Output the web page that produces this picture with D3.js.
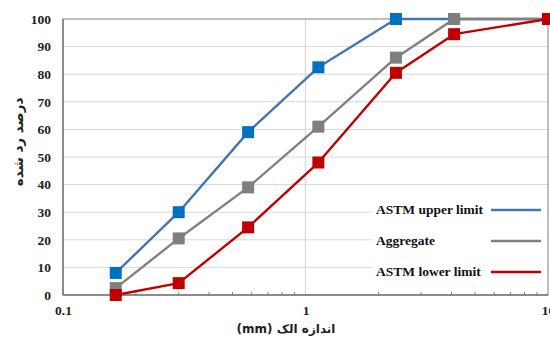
<!DOCTYPE html>
<html>
<head>
<meta charset="utf-8">
<script src="https://cdn.jsdelivr.net/npm/d3@7"></script>
<style>
  body { margin: 0; background: #fff; }
  svg text { font-family: "Liberation Serif", "Times New Roman", serif; }
</style>
</head>
<body>
<svg id="chart" width="550" height="340"></svg>
<script>
// sieve sizes (mm)
const sieveSizes = [0.165, 0.3, 0.58, 1.13, 2.36, 4.1, 10];
const upperLimit = [8, 30, 59, 82.5, 100, 100, 100];
const aggregate = [2.5, 20.5, 39, 61, 86, 100, 100];
const lowerLimit = [0, 4.3, 24.5, 48, 80.5, 94.5, 100];
const yTicks = [0, 10, 20, 30, 40, 50, 60, 70, 80, 90, 100];
const xTicks = [0.1, 1, 10];

const series = [
    {name: "ASTM upper limit", values: upperLimit, line: "#4576AC", marker: "#0070C0"},
    {name: "Aggregate", values: aggregate, line: "#808080", marker: "#7F7F7F"},
    {name: "ASTM lower limit", values: lowerLimit, line: "#C00000", marker: "#C00000"}
];

const svg = d3.select("#chart");
const margin = {left: 63, right: 2, top: 19, bottom: 45};
const width = 550, height = 340;

const x = d3.scaleLog().domain([0.1, 10]).range([margin.left, width - margin.right]);
const y = d3.scaleLinear().domain([0, 100]).range([height - margin.bottom, margin.top]);

// Horizontal gridlines
svg.append("g")
    .selectAll("line")
    .data(yTicks.slice(1, -1))
    .enter()
    .append("line")
    .attr("x1", x(0.1))
    .attr("x2", x(10))
    .attr("y1", d => y(d))
    .attr("y2", d => y(d))
    .style("stroke", "#D9D9D9")
    .style("stroke-width", 1);

// Vertical gridline at 1
svg.append("line")
    .attr("x1", x(1)).attr("x2", x(1))
    .attr("y1", y(0)).attr("y2", y(100))
    .style("stroke", "#D9D9D9")
    .style("stroke-width", 1.3);

// Plot border
svg.append("rect")
    .attr("x", x(0.1))
    .attr("y", y(100))
    .attr("width", x(10) - x(0.1))
    .attr("height", y(0) - y(100))
    .style("fill", "none")
    .style("stroke", "#7F7F7F")
    .style("stroke-width", 1);

svg.append("line")
    .attr("x1", x(0.1)).attr("x2", x(10))
    .attr("y1", y(0)).attr("y2", y(0))
    .style("stroke", "#595959");
svg.append("line")
    .attr("x1", x(0.1)).attr("x2", x(0.1))
    .attr("y1", y(0)).attr("y2", y(100))
    .style("stroke", "#595959");

// Minor x ticks
const minorTicks = x.ticks().filter(d => !xTicks.includes(d));
svg.append("g")
    .selectAll("line")
    .data(minorTicks)
    .enter()
    .append("line")
    .attr("x1", d => x(d)).attr("x2", d => x(d))
    .attr("y1", y(0) - 3).attr("y2", y(0) + 1)
    .style("stroke", "#7F7F7F");

// Y axis labels
const yAxis = svg.append("g")
    .attr("transform", `translate(${x(0.1) - 12},0)`)
    .call(d3.axisLeft(y).tickValues(yTicks).tickSize(0).tickPadding(0));
yAxis.select(".domain").remove();
yAxis.selectAll("text")
    .style("font-family", "'Liberation Serif', serif")
    .style("font-size", "13.5px")
    .style("font-weight", "bold")
    .attr("fill", "#222");

// X axis labels
const xAxis = svg.append("g")
    .attr("transform", `translate(0,${y(0) + 10})`)
    .call(d3.axisBottom(x).tickValues(xTicks).tickFormat(d3.format("")).tickSize(0).tickPadding(0));
xAxis.select(".domain").remove();
xAxis.selectAll("text")
    .attr("dy", "0.71em")
    .style("font-family", "'Liberation Serif', serif")
    .style("font-size", "13.5px")
    .style("font-weight", "bold")
    .attr("fill", "#222");

// Axis titles
svg.append("text")
    .attr("transform", `translate(23,${(y(0) + y(100)) / 2 - 15}) rotate(-90)`)
    .attr("text-anchor", "middle")
    .attr("direction", "rtl")
    .style("font-family", "'DejaVu Sans', sans-serif")
    .style("font-size", "13.5px")
    .style("font-weight", "bold")
    .attr("fill", "#222")
    .text("درصد رد شده");

svg.append("text")
    .attr("x", 286)
    .attr("y", 333)
    .attr("text-anchor", "middle")
    .attr("direction", "rtl")
    .style("font-family", "'DejaVu Sans', sans-serif")
    .style("font-size", "12px")
    .style("font-weight", "bold")
    .attr("fill", "#222")
    .text("اندازه الک (mm)");

// Lines
const line = d3.line()
    .x(d => x(d[0]))
    .y(d => y(d[1]));

series.forEach(function (s) {
    const pts = sieveSizes.map((d, i) => [d, s.values[i]]);
    svg.append("path")
        .datum(pts)
        .attr("d", line)
        .style("fill", "none")
        .style("stroke", s.line)
        .style("stroke-width", 2.4)
        .style("stroke-linejoin", "round");
});

// Markers
const ms = 12;
series.forEach(function (s) {
    svg.append("g")
        .selectAll("rect")
        .data(sieveSizes.map((d, i) => [d, s.values[i]]))
        .enter()
        .append("rect")
        .attr("x", d => x(d[0]) - ms / 2)
        .attr("y", d => y(d[1]) - ms / 2)
        .attr("width", ms)
        .attr("height", ms)
        .style("fill", s.marker);
});

// Legend
const legend = svg.append("g").attr("id", "legend");
legend.append("rect")
    .attr("x", 372)
    .attr("y", 196)
    .attr("width", x(10) - 373)
    .attr("height", 90)
    .style("fill", "#fff");

const legendEntry = legend.selectAll("g.legend_entry")
    .data(series)
    .enter()
    .append("g")
    .attr("class", "legend_entry");

legendEntry.append("text")
    .attr("x", 376)
    .attr("y", (d, i) => 214 + i * 31)
    .style("font-family", "'Liberation Serif', serif")
    .style("font-size", "13.5px")
    .style("font-weight", "bold")
    .attr("fill", "#111")
    .text(d => d.name);

legendEntry.append("line")
    .attr("x1", 491)
    .attr("x2", 541)
    .attr("y1", (d, i) => 210 + i * 31)
    .attr("y2", (d, i) => 210 + i * 31)
    .style("stroke", d => d.line)
    .style("stroke-width", 2.4);
</script>
</body>
</html>
